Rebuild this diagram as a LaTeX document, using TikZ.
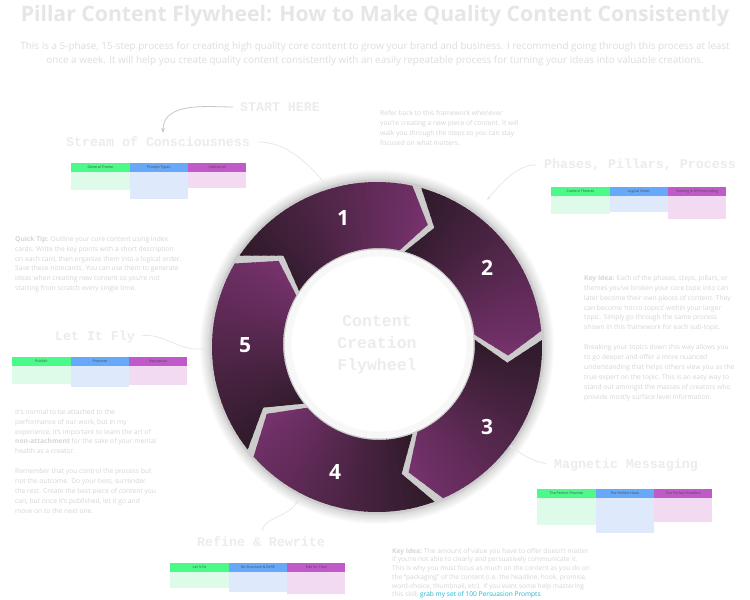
\documentclass[tikz,border=0pt]{standalone}
\usepackage{fontspec}
\setmainfont{Open Sans}
\newfontfamily\labfont{Liberation Mono}
\usetikzlibrary{arrows.meta}
\definecolor{segdark}{HTML}{301B2B}
\definecolor{segpurp}{HTML}{76326C}
\definecolor{gapgray}{HTML}{CCCCCC}
\definecolor{txtgray}{HTML}{D6D6D6}
\definecolor{titlegray}{HTML}{E6E6E6}
\definecolor{subgray}{HTML}{DEDEDE}
\definecolor{labwhite}{HTML}{ECECEC}
\definecolor{hdrgreen}{HTML}{4CFA8A}
\definecolor{hdrblue}{HTML}{68A8F8}
\definecolor{hdrpurple}{HTML}{C05AC8}
\definecolor{bodygreen}{HTML}{DDFBE8}
\definecolor{bodyblue}{HTML}{DEEAFB}
\definecolor{bodypurple}{HTML}{F1DAF2}
\definecolor{linkcyan}{HTML}{1FB5D5}
\definecolor{faintline}{HTML}{E6E6E6}
\tikzset{
  phaselabel/.style={font=\labfont\bfseries\fontsize{13.3}{14}\selectfont, text=labwhite, inner sep=0pt},
  bodytext/.style={font=\fontsize{6.7}{9.9}\selectfont, text=txtgray, align=left, anchor=north west, inner sep=0pt},
  hdrcell/.style={minimum width=58.4pt, minimum height=8.6pt, inner sep=0pt, anchor=north west, font=\fontsize{3.6}{4}\selectfont, text=black!70},
  bodycell/.style={minimum width=58.4pt, inner sep=0pt, anchor=north west},
  numlabel/.style={font=\bfseries\fontsize{21}{21}\selectfont, text=white, inner sep=0pt},
  faintarrow/.style={draw=faintline, line width=0.7pt, -{Stealth[length=4pt]}},
  startarrow/.style={draw=black!22, line width=0.8pt, -{Stealth[length=5pt]}},
}
\newcommand\phasetable[9]{%
  \pgfmathsetmacro\tbA{#4-#3-8.6}%
  \pgfmathsetmacro\tbB{#5-#3-8.6}%
  \pgfmathsetmacro\tbC{#6-#3-8.6}%
  \node[bodycell, fill=bodygreen, minimum height=\tbA pt] (#1b1) at (#2,#3+8.6) {};
  \node[bodycell, fill=bodyblue, minimum height=\tbB pt] (#1b2) at (#2+58.4,#3+8.6) {};
  \node[bodycell, fill=bodypurple, minimum height=\tbC pt] (#1b3) at (#2+116.8,#3+8.6) {};
  \node[hdrcell, fill=hdrgreen] (#1h1) at (#2,#3) {#7};
  \node[hdrcell, fill=hdrblue] (#1h2) at (#2+58.4,#3) {#8};
  \node[hdrcell, fill=hdrpurple] (#1h3) at (#2+116.8,#3) {#9};
}
\def\Ro{165}
\def\Ri{96}
\def\Icx{2}
\def\Icy{3}
\def\gh{1.6}
\def\gd{10}
\begin{document}
\begin{tikzpicture}[x=1pt, y=-1pt]
\fill[white] (0,0) rectangle (750,600);
\useasboundingbox (0,0) rectangle (750,600);

% ---- ring ----
\begin{scope}[shift={(377,347)}, y=1pt]
  \foreach \i in {1,...,11} \fill[black, opacity=0.017] (0,0) circle ({\Ro+1+\i});
  \fill[gapgray] (0,0) circle ({\Ro+2.5});
  \foreach \ta in {148,76,4,-68,-140} {
    \pgfmathsetmacro\la{\ta-72}
    \pgfmathsetmacro\sA{\ta-\gh}
    \pgfmathsetmacro\sB{\la+\gh}
    \pgfmathsetmacro\oAx{\Ro*cos(\sA)}
    \pgfmathsetmacro\oAy{\Ro*sin(\sA)}
    \pgfmathsetmacro\iBx{\Ri*cos(\sB)+\Icx}
    \pgfmathsetmacro\iBy{\Ri*sin(\sB)+\Icy}
    \pgfmathsetmacro\mAx{((\Ro+\Ri)*cos(\sA-\gd)+\Icx)/2}
    \pgfmathsetmacro\mAy{((\Ro+\Ri)*sin(\sA-\gd)+\Icy)/2}
    \pgfmathsetmacro\mBx{((\Ro+\Ri)*cos(\sB-\gd)+\Icx)/2}
    \pgfmathsetmacro\mBy{((\Ro+\Ri)*sin(\sB-\gd)+\Icy)/2}
    \begin{scope}
      \clip (\oAx,\oAy) arc[start angle=\sA, end angle=\sB, radius=\Ro]
        -- (\mBx,\mBy) -- (\iBx,\iBy)
        arc[start angle=\sB, end angle=\sA, radius=\Ri]
        -- (\mAx,\mAy) -- cycle;
      \foreach \i in {0,...,43} {
        \pgfmathsetmacro\aA{\ta+4-\i*2}
        \pgfmathsetmacro\aB{\aA-2.4}
        \pgfmathtruncatemacro\pc{min(100,max(0,(\i-3)*100/38))}
        \fill[segpurp!\pc!segdark] (0,0) -- (\aA:230) -- (\aB:230) -- cycle;
      }
    \end{scope}
  }
  \fill[white] (\Icx,\Icy) circle ({\Ri-1.5});
  \foreach \i in {0,...,6} \draw[black, opacity=0.022, line width=1.2pt] (\Icx,\Icy) circle ({\Ri-2-\i});
\end{scope}

% numbers
\node[numlabel] (n1) at (343,218) {1};
\node[numlabel] (n2) at (487,268) {2};
\node[numlabel] (n3) at (487,427) {3};
\node[numlabel] (n4) at (335,472) {4};
\node[numlabel] (n5) at (245,345) {5};
\node[font=\labfont\bfseries\fontsize{16.5}{22}\selectfont, text=labwhite, align=center] (centertext) at (377,345) {Content\\Creation\\Flywheel};

% ---- title ----
\node[font=\bfseries\fontsize{21.2}{22}\selectfont, text=titlegray] (title) at (375,16) {Pillar Content Flywheel: How to Make Quality Content Consistently};
\node[font=\fontsize{9.9}{14}\selectfont, text=subgray, align=center] (subtitle) at (375,54) {This is a 5-phase, 15-step process for creating high quality core content to grow your brand and business. I recommend going through this process at least\\once a week. It will help you create quality content consistently with an easily repeatable process for turning your ideas into valuable creations.};

% ---- phase labels ----
\node[phaselabel] (startlbl) at (280,107) {START HERE};
\node[phaselabel] (streamlbl) at (158,142) {Stream of Consciousness};
\node[phaselabel] (phaseslbl) at (640,165) {Phases, Pillars, Process};
\node[phaselabel] (magneticlbl) at (626,465) {Magnetic Messaging};
\node[phaselabel] (refinelbl) at (261,542) {Refine \& Rewrite};
\node[phaselabel] (flylbl) at (95,337) {Let It Fly};

% ---- connectors ----
\coordinate (startTip) at (163,133);
\coordinate (ringA) at (327,186);
\coordinate (ringB) at (487,200);
\coordinate (ringC) at (510,445);
\coordinate (ringD) at (298,500);
\coordinate (ringE) at (208,348);
\draw[startarrow, shorten <=7pt] (startlbl.west) to[out=180, in=90] (startTip);
\draw[faintarrow, shorten <=8pt] (streamlbl.east) to[out=0, in=130] (ringA);
\draw[faintarrow, shorten <=8pt] (phaseslbl.west) to[out=180, in=50] (ringB);
\draw[faintarrow, shorten <=8pt] (magneticlbl.west) to[out=170, in=-40] (ringC);
\draw[faintarrow, shorten <=6pt] (refinelbl.north) to[out=80, in=-120] (ringD);
\draw[faintarrow, shorten <=6pt] (flylbl.east) to[out=10, in=190] (ringE);

% ---- tables ----
\phasetable{tA}{71}{163}{190}{199}{188}{General Theme}{Prompt Types}{Additional}
\phasetable{tB}{551}{187}{214}{212}{219}{Content Themes}{Logical Order}{Naming \& Differentiating}
\phasetable{tC}{537}{489}{525}{533}{522}{The Perfect Promise}{The Perfect Hook}{The Perfect Headline}
\phasetable{tD}{170}{563}{588}{592}{594}{Let It Sit}{Re-Structure \& Refill}{Edit for Flow}
\phasetable{tE}{12}{357}{384}{387}{385}{Publish}{Promote}{Repurpose}

% ---- text blocks ----
\node[bodytext] (refer) at (380,110) {Refer back to this framework whenever\\you’re creating a new piece of content. It will\\walk you through the steps so you can stay\\focused on what matters.};
\node[bodytext] (quicktip) at (15,236) {{\bfseries Quick Tip:} Outline your core content using index\\cards. Write the key points with a short description\\on each card, then organize them into a logical order.\\Save these notecards. You can use them to generate\\ideas when creating new content so you’re not\\starting from scratch every single time.};
\node[bodytext] (keyidea) at (584,275) {{\bfseries Key Idea:} Each of the phases, steps, pillars, or\\themes you’ve broken your core topic into can\\later become their own pieces of content. They\\can become 'micro-topics' within your larger\\topic. Simply go through the same process\\shown in this framework for each sub-topic.\\[9.9pt]Breaking your topics down this way allows you\\to go deeper and offer a more nuanced\\understanding that helps others view you as the\\true expert on the topic. This is an easy way to\\stand out amongst the masses of creators who\\provide mostly surface level information.};
\node[bodytext] (detach) at (15,409) {It’s normal to be attached to the\\performance of our work, but in my\\experience, it’s important to learn the art of\\{\bfseries non-attachment} for the sake of your mental\\health as a creator.\\[9.9pt]Remember that you control the process but\\not the outcome. Do your best, surrender\\the rest. Create the best piece of content you\\can, but once it’s published, let it go and\\move on to the next one.};
\node[bodytext, font=\fontsize{6.6}{8.7}\selectfont] (keyidea2) at (392,548) {{\bfseries Key Idea:} The amount of value you have to offer doesn’t matter\\if you’re not able to clearly and persuasively communicate it.\\This is why you must focus as much on the content as you do on\\the “packaging” of the content (i.e. the headline, hook, promise,\\word-choice, thumbnail, etc). If you want some help mastering\\this skill, {\color{linkcyan}\underline{grab my set of 100 Persuasion Prompts}}.};
\end{tikzpicture}
\end{document}
